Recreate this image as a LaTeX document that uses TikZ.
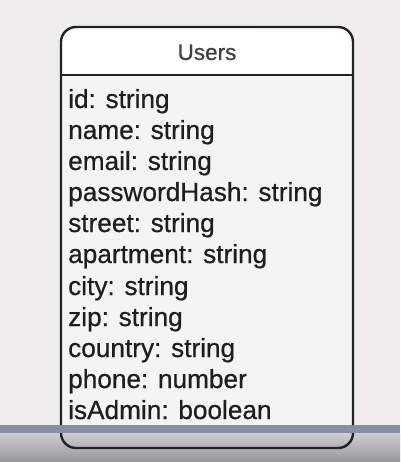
\documentclass[tikz,border=0pt]{standalone}
\usepackage{xcolor}
\usepackage{fontspec}
\setmainfont{Liberation Sans}[FakeBold=0.6]
\usepackage{tikz}
\usetikzlibrary{positioning, backgrounds}
\definecolor{screengray}{RGB}{238, 236, 237}
\definecolor{screenpink}{RGB}{242, 236, 238}
\definecolor{boxline}{RGB}{34, 34, 34}
\definecolor{fieldtext}{RGB}{30, 30, 30}
\definecolor{playerbar}{RGB}{135, 142, 161}
\definecolor{shadowtop}{RGB}{208, 205, 208}
\definecolor{shadowbottom}{RGB}{150, 150, 152}

\begin{document}
\begin{tikzpicture}[
    x=1pt, y=-1pt,
    tablebox/.style={draw=boxline, line width=2.4pt, rounded corners=15pt},
    header/.style={anchor=base, text=fieldtext!85!white, font=\fontsize{22.5}{26}\selectfont, inner sep=0pt},
    field/.style={anchor=base west, text=fieldtext, font=\fontsize{26.2}{31}\selectfont, inner sep=0pt}
]
    % Screen background
    \useasboundingbox (0, 0) rectangle (400, 462);
    \shade[left color=screengray, right color=screenpink] (0, 0) rectangle (400, 462);

    % Table body
    \fill[white, rounded corners=15pt] (61, 27) rectangle (353, 448);
    \fill[screengray!60!white] (62, 76) rectangle (352, 440);
    \shade[top color=shadowtop, bottom color=shadowbottom] (0, 433) rectangle (400, 462);
    \draw[tablebox] (61, 27) rectangle (353, 448);
    \draw[boxline, line width=2.4pt] (61, 75) -- (353, 75);

    % Title
    \node[header] (title) at (207, 60) {Users};

    % Fields
    \node[field] (id) at (68, 108) {id: string};
    \node[field] (name) at (68, 139) {name: string};
    \node[field] (email) at (68, 170) {email: string};
    \node[field] (hash) at (68, 201) {passwordHash: string};
    \node[field] (street) at (68, 232) {street: string};
    \node[field] (apartment) at (68, 263) {apartment: string};
    \node[field] (city) at (68, 295) {city: string};
    \node[field] (zip) at (68, 326) {zip: string};
    \node[field] (country) at (68, 357) {country: string};
    \node[field] (phone) at (68, 388) {phone: number};
    \node[field] (admin) at (68, 419) {isAdmin: boolean};

    % Player bar
    \fill[playerbar] (0, 425) rectangle (400, 433);

\end{tikzpicture}
\end{document}
